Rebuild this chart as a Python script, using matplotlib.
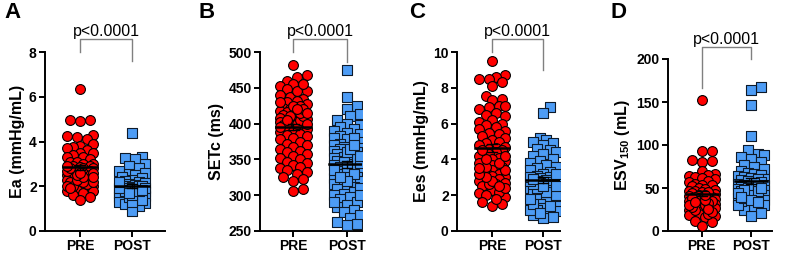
import numpy as np
import matplotlib
matplotlib.use("Agg")
import matplotlib.pyplot as plt

plt.rcParams['font.family'] = ['Liberation Sans', 'DejaVu Sans']
plt.rcParams['mathtext.fontset'] = 'custom'
plt.rcParams['mathtext.rm'] = 'Liberation Sans:bold'
plt.rcParams['mathtext.bf'] = 'Liberation Sans:bold'

groups = ["PRE", "POST"]

ea_pre = [6.35, 4.95, 4.95, 4.9, 4.3, 4.25, 4.2, 4.1, 3.9, 3.8, 3.75, 3.7, 3.6, 3.5,
          3.5, 3.4, 3.3, 3.3, 3.2, 3.1, 3.1, 3.0, 3.0, 2.9, 2.9, 2.85, 2.8, 2.8, 2.7,
          2.7, 2.6, 2.6, 2.5, 2.5, 2.4, 2.3, 2.3, 2.2, 2.1, 2.0, 1.95, 1.9, 1.9, 1.85,
          1.8, 1.8, 1.7, 1.6, 1.5, 1.4, 2.0, 2.1, 2.2, 2.3, 2.4, 2.5, 2.6, 2.7, 2.8,
          2.9, 2.0, 1.9, 2.2, 2.4, 2.6]
ea_post = [4.4, 3.3, 3.25, 3.2, 3.0, 2.9, 2.8, 2.7, 2.6, 2.55, 2.5, 2.4, 2.35, 2.3,
           2.25, 2.2, 2.15, 2.1, 2.05, 2.0, 2.0, 1.95, 1.9, 1.9, 1.85, 1.8, 1.75, 1.7,
           1.65, 1.6, 1.55, 1.5, 1.45, 1.4, 1.35, 1.3, 1.25, 1.2, 1.1, 0.9, 1.5, 1.6,
           1.7, 1.8, 1.9, 2.0, 1.4, 1.3, 1.6, 1.8, 2.0, 2.2, 1.9, 1.7, 1.85]

setc_pre = [482, 468, 465, 460, 455, 452, 448, 446, 440, 437, 435, 432, 430, 428, 425,
            422, 420, 418, 416, 414, 412, 410, 408, 406, 404, 402, 400, 398, 397, 396,
            395, 394, 392, 390, 388, 386, 384, 382, 380, 378, 375, 372, 370, 368, 365,
            362, 360, 357, 355, 352, 350, 347, 345, 342, 340, 338, 335, 332, 330, 325,
            323, 320, 309, 306, 400, 405, 410, 415, 420, 425, 430, 400, 410, 420, 445,
            455, 395, 405, 415]
setc_post = [475, 437, 424, 420, 414, 410, 405, 400, 398, 395, 392, 390, 387, 385, 382,
             380, 378, 375, 372, 370, 368, 366, 364, 362, 360, 358, 356, 354, 352, 350,
             348, 346, 344, 342, 340, 338, 336, 334, 332, 330, 328, 326, 324, 322, 320,
             318, 315, 312, 310, 308, 305, 302, 300, 297, 294, 290, 287, 284, 280, 276,
             272, 268, 263, 260, 258, 340, 350, 360, 330, 320, 345, 355, 365, 335, 325,
             310, 380, 300, 290, 370]

ees_pre = [9.5, 8.7, 8.6, 8.5, 8.5, 8.3, 8.1, 7.55, 7.4, 7.3, 7.0, 7.0, 6.9, 6.8, 6.6,
           6.5, 6.4, 6.2, 6.1, 6.0, 5.9, 5.8, 5.7, 5.6, 5.5, 5.4, 5.3, 5.2, 5.1, 5.0,
           4.9, 4.8, 4.7, 4.65, 4.6, 4.5, 4.4, 4.3, 4.2, 4.1, 4.0, 3.9, 3.8, 3.7, 3.6,
           3.5, 3.4, 3.3, 3.2, 3.1, 3.0, 2.9, 2.8, 2.7, 2.6, 2.5, 2.3, 2.1, 2.0, 1.9,
           1.6, 1.5, 1.4, 2.2, 2.4, 2.6, 2.8, 3.0, 3.2, 3.4, 3.6, 3.8, 4.0, 4.2, 2.5,
           3.5, 4.5, 1.8]
ees_post = [6.9, 6.6, 5.2, 5.1, 5.0, 4.9, 4.8, 4.6, 4.5, 4.4, 4.3, 4.2, 4.0, 3.9, 3.8,
            3.7, 3.6, 3.5, 3.4, 3.3, 3.2, 3.1, 3.0, 2.95, 2.9, 2.85, 2.8, 2.75, 2.7,
            2.6, 2.5, 2.4, 2.3, 2.2, 2.1, 2.0, 1.9, 1.8, 1.7, 1.6, 1.5, 1.4, 1.3, 1.2,
            1.1, 1.0, 0.9, 0.8, 0.75, 1.2, 1.5, 1.8, 2.0, 2.2, 2.4, 2.6, 2.8, 3.0, 1.0,
            1.4, 2.5, 2.9, 3.2, 2.5]

esv_pre = [152, 93, 93, 83, 81, 80, 70, 66, 65, 64, 63, 62, 60, 58, 57, 55, 54, 53, 52,
           50, 49, 48, 47, 46, 45, 44, 43, 42, 41, 40, 39, 38, 37, 36, 35, 34, 33, 32,
           31, 30, 29, 28, 27, 25, 23, 21, 20, 19, 18, 16, 12, 10, 6, 20, 25, 30, 35,
           40, 45, 28, 33, 38, 22, 26, 36, 42, 30, 34]
esv_post = [167, 164, 146, 111, 94, 90, 88, 86, 84, 80, 77, 75, 72, 70, 68, 66, 65, 64,
            63, 62, 61, 60, 59, 58, 57, 56, 55, 54, 53, 52, 51, 50, 49, 48, 47, 46, 45,
            44, 43, 42, 40, 38, 36, 33, 30, 27, 24, 21, 17, 35, 40, 45, 50, 30, 38, 42,
            48, 52, 44, 46, 36, 40, 34, 50]

panels = [
    dict(letter="A", pre=ea_pre, post=ea_post, ylabel="Ea (mmHg/mL)",
         ylim=(0, 8), yticks=[0, 2, 4, 6, 8], xlim=(-0.67, 1.63),
         box=(45, 165, 52), bracket=(8.58, 8.0, 7.6), lx=4),
    dict(letter="B", pre=setc_pre, post=setc_post, ylabel="SETc (ms)",
         ylim=(250, 500), yticks=[250, 300, 350, 400, 450, 500], xlim=(-0.62, 1.28),
         box=(260, 362, 52), bracket=(518, 500, 486), lx=199),
    dict(letter="C", pre=ees_pre, post=ees_post, ylabel="Ees (mmHg/mL)",
         ylim=(0, 10), yticks=[0, 2, 4, 6, 8, 10], xlim=(-0.69, 1.33),
         box=(457, 560, 52), bracket=(10.73, 10.0, 9.0), lx=409),
    dict(letter="D", pre=esv_pre, post=esv_post, ylabel=r"ESV$_{150}$ (mL)",
         ylim=(0, 200), yticks=[0, 50, 100, 150, 200], xlim=(-0.69, 1.43),
         box=(668, 772, 59), bracket=(214, 166, 200), lx=611),
]

W, H = 785, 254
BOTTOM = 231


def swarm_x(ax, vals, center, size_px, halfw):
    # simple beeswarm: place points bottom-up, nearest free offset from center
    vals = np.asarray(vals, dtype=float)
    t = ax.transData
    p0 = t.transform((0, 0))
    p1 = t.transform((1, 1))
    sx, sy = p1[0] - p0[0], p1[1] - p0[1]
    step = size_px * 0.35 / sx
    cands = [0.0]
    k = 1
    while k * step <= halfw:
        cands += [k * step, -k * step]
        k += 1
    placed = []
    xs = np.zeros(len(vals))
    for i in np.argsort(vals):
        py = vals[i] * sy
        best, best_d = 0.0, -1
        for off in cands:
            px = (center + off) * sx
            if placed:
                d = min(np.hypot(px - qx, py - qy) for qx, qy in placed)
            else:
                d = 1e9
            if d >= size_px * 0.8:
                best = off
                break
            if d > best_d:
                best, best_d = off, d
        xs[i] = center + best
        placed.append(((center + best) * sx, py))
    return xs


fig = plt.figure(figsize=(W / 100, H / 100), dpi=100)

for p in panels:
    x0, x1, ytop = p["box"]
    ax = fig.add_axes([x0 / W, 1 - BOTTOM / H, (x1 - x0) / W, (BOTTOM - ytop) / H])
    ax.set_xlim(*p["xlim"])
    ax.set_ylim(*p["ylim"])

    for i, (vals, mk, fc, ec) in enumerate([(p["pre"], "o", "#ff0000", "#000000"),
                                            (p["post"], "s", "#4d9cf5", "#0d1a2a")]):
        xs = swarm_x(ax, vals, i, 9.5, 0.3)
        ax.scatter(xs, vals, s=50 if mk == "o" else 42, marker=mk, facecolor=fc,
                   edgecolor=ec, linewidth=0.8, zorder=3)
        v = np.asarray(vals, dtype=float)
        m = v.mean()
        sem = v.std(ddof=1) / np.sqrt(len(v))
        ax.plot([i - 0.33, i + 0.33], [m, m], color="black", lw=1.8, zorder=4)
        ax.plot([i, i], [m - sem, m + sem], color="black", lw=1.0, zorder=4)
        ax.plot([i - 0.1, i + 0.1], [m - sem, m - sem], color="black", lw=1.0, zorder=4)
        ax.plot([i - 0.1, i + 0.1], [m + sem, m + sem], color="black", lw=1.0, zorder=4)

    yb, yl, yr = p["bracket"]
    ax.plot([0, 0, 1, 1], [yl, yb, yb, yr], color="#808080", lw=1.0,
            clip_on=False, zorder=2)
    ax.text(0.5, yb, "p<0.0001", ha="center", va="bottom", fontsize=11.5,
            transform=ax.transData, clip_on=False)

    ax.set_xticks([0, 1])
    ax.set_xticklabels(groups, fontsize=10, fontweight="bold")
    ax.set_yticks(p["yticks"])
    ax.set_yticklabels([str(t) for t in p["yticks"]], fontsize=10, fontweight="bold")
    ax.set_ylabel(p["ylabel"], fontsize=11.5, fontweight="bold", labelpad=3)
    for s in ("top", "right"):
        ax.spines[s].set_visible(False)
    for s in ("left", "bottom"):
        ax.spines[s].set_linewidth(1.4)
    ax.tick_params(width=1.4, length=4, pad=2)

    fig.text(p["lx"] / W, 1 - 13 / H, p["letter"], fontsize=16, fontweight="bold",
             va="center", ha="left")

fig.savefig("out.png", dpi=100)
